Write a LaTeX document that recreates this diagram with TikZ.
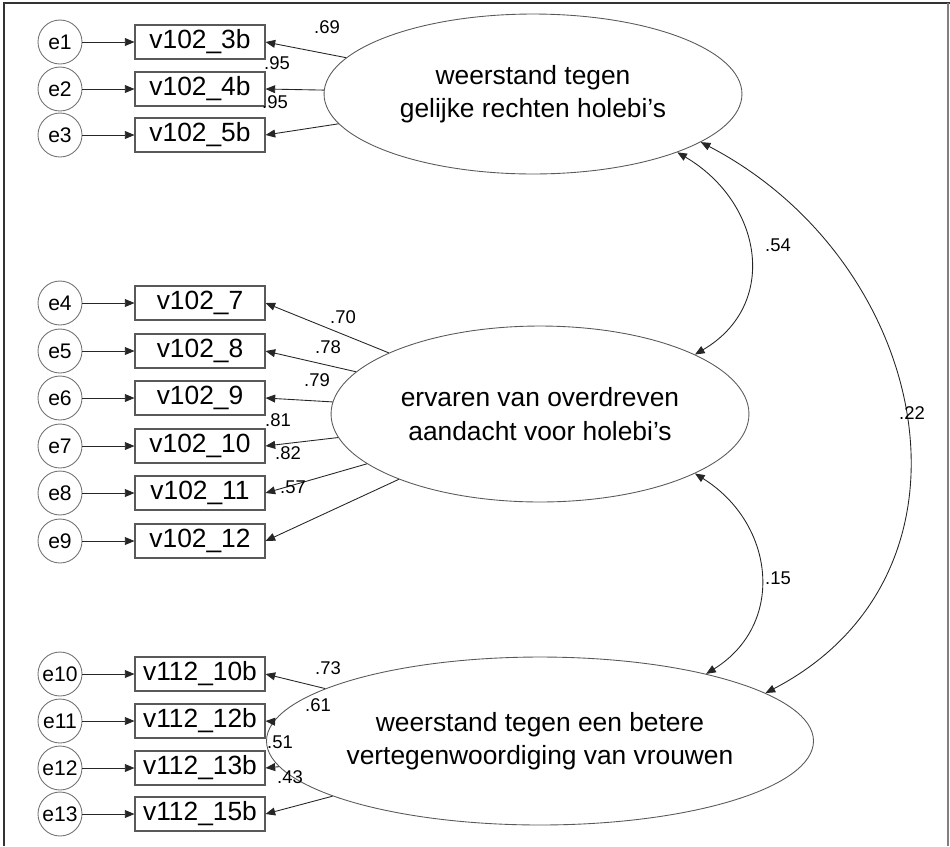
\documentclass[tikz,border=0pt]{standalone}
\usepackage{fontspec}
\setmainfont{Liberation Sans}
\usetikzlibrary{arrows.meta}
\usetikzlibrary{positioning}
\usetikzlibrary{shapes.geometric}

\begin{document}
\begin{tikzpicture}[x=0.02cm, y=-0.02cm,
    errc/.style={circle, draw=black!55, line width=0.5pt, minimum size=0.88cm, inner sep=0pt, font=\fontsize{12}{14}\selectfont},
    obs/.style={rectangle, draw=black!65, line width=0.6pt, minimum width=2.6cm, minimum height=0.68cm, inner sep=1pt, font=\fontsize{15}{18}\selectfont},
    lat/.style={ellipse, draw=black!65, line width=0.5pt, minimum width=8.36cm, minimum height=3.2cm, inner sep=0pt, align=center, font=\fontsize{15}{19}\selectfont},
    coef/.style={inner sep=0pt, font=\fontsize{10.5}{12}\selectfont},
    arr/.style={draw=black!85, line width=0.5pt, -{Triangle[length=5.5pt,width=4.5pt]}},
    cov/.style={draw=black!85, line width=0.5pt, {Triangle[length=5.5pt,width=4.5pt]}-{Triangle[length=5.5pt,width=4.5pt]}}]
    \useasboundingbox (0,0) rectangle (950,846);
    % frame
    \draw[line width=1.6pt, black!80] (4,846) -- (4,3) -- (950,3);
    \draw[line width=1pt, black!50] (948,3) -- (948,846);
    % latent variables
    \node[lat] (holebi) at (533,94) {weerstand tegen\\gelijke rechten holebi's};
    \node[lat, minimum height=3.52cm] (aandacht) at (540,414) {ervaren van overdreven\\aandacht voor holebi's};
    \node[lat, minimum height=3.36cm] (vrouwen) at (540,741) {weerstand tegen een betere\\vertegenwoordiging van vrouwen};
    % indicators with their errors
    \foreach \i/\y/\t in {1/42/v102\_3b, 2/89/v102\_4b, 3/135/v102\_5b,
        4/303/v102\_7, 5/351/v102\_8, 6/398/v102\_9, 7/446/v102\_10, 8/493/v102\_11, 9/541/v102\_12,
        10/674/v112\_10b, 11/721/v112\_12b, 12/768/v112\_13b, 13/814/v112\_15b}{
        \node[errc] (e\i) at (60,\y) {e\i};
        \node[obs] (v\i) at (200,\y) {\t};
        \draw[arr] (e\i) -- (v\i);
    }
    \foreach \i in {1,2,3} \draw[arr] (holebi) -- (v\i.east);
    \foreach \i in {4,...,9} \draw[arr] (aandacht) -- (v\i.east);
    \foreach \i in {10,...,13} \draw[arr] (vrouwen) -- (v\i.east);
    % loadings
    \foreach \i/\x/\y/\t in {1/327/27/.69, 2/277/63/.95, 3/275/102/.95,
        4/343/317/.70, 5/328/347/.78, 6/317/380/.79, 7/278/420/.81, 8/288/453/.82, 9/293/487/.57,
        10/328/668/.73, 11/318/705/.61, 12/280/742/.51, 13/290/777/.43}
        \node[coef] (l\i) at (\x,\y) {\t};
    % correlations
    \draw[cov] (holebi.-22) .. controls +(85,50) and +(85,-50) .. (aandacht.21);
    \draw[cov] (aandacht.-21) .. controls +(80,50) and +(80,-50) .. (vrouwen.22);
    \draw[cov] (holebi.-16) .. controls +(230,120) and +(230,-120) .. (vrouwen.12);
    \node[coef] (r1) at (778,245) {.54};
    \node[coef] (r2) at (778,578) {.15};
    \node[coef] (r3) at (912,413) {.22};
\end{tikzpicture}
\end{document}
